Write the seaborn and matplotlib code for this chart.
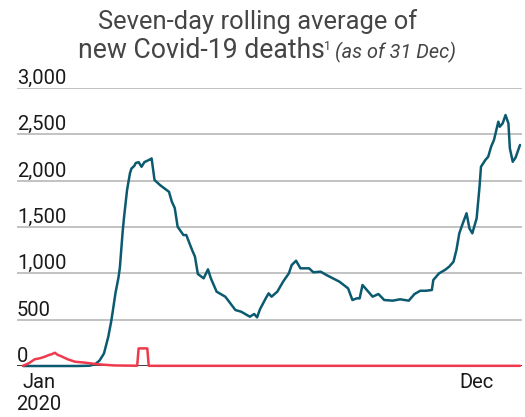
import pandas as pd
import numpy as np
import matplotlib.pyplot as plt
import matplotlib.transforms as mtransforms
import seaborn as sns

sns.set_theme(style='white')
plt.rcParams['font.family'] = ['Roboto', 'DejaVu Sans']

# US seven-day average of new deaths
us_dates = ['2020-01-22', '2020-02-29', '2020-03-08', '2020-03-12', '2020-03-15', '2020-03-18',
            '2020-03-21', '2020-03-23', '2020-03-24', '2020-03-26', '2020-03-28', '2020-03-29',
            '2020-03-30', '2020-03-31', '2020-04-01', '2020-04-02', '2020-04-03', '2020-04-04',
            '2020-04-05', '2020-04-06', '2020-04-08', '2020-04-09', '2020-04-11', '2020-04-13',
            '2020-04-15', '2020-04-17', '2020-04-19', '2020-04-20', '2020-04-22', '2020-04-26',
            '2020-05-02', '2020-05-04', '2020-05-06', '2020-05-08', '2020-05-12', '2020-05-14',
            '2020-05-18', '2020-05-20', '2020-05-22', '2020-05-26', '2020-05-29', '2020-05-31',
            '2020-06-04', '2020-06-10', '2020-06-17', '2020-06-21', '2020-06-27', '2020-06-30',
            '2020-07-02', '2020-07-04', '2020-07-08', '2020-07-10', '2020-07-12', '2020-07-16',
            '2020-07-20', '2020-07-24', '2020-07-26', '2020-07-29', '2020-08-01', '2020-08-07',
            '2020-08-10', '2020-08-15', '2020-08-19', '2020-08-28', '2020-09-03', '2020-09-06',
            '2020-09-09', '2020-09-11', '2020-09-13', '2020-09-16', '2020-09-20', '2020-09-24',
            '2020-09-28', '2020-10-04', '2020-10-09', '2020-10-15', '2020-10-19', '2020-10-23',
            '2020-10-27', '2020-10-31', '2020-11-01', '2020-11-05', '2020-11-09', '2020-11-12',
            '2020-11-15', '2020-11-17', '2020-11-19', '2020-11-21', '2020-11-24', '2020-11-26',
            '2020-11-28', '2020-12-01', '2020-12-03', '2020-12-04', '2020-12-07', '2020-12-09',
            '2020-12-11', '2020-12-13', '2020-12-16', '2020-12-17', '2020-12-19', '2020-12-21',
            '2020-12-23', '2020-12-24', '2020-12-26', '2020-12-28', '2020-12-31']
us_deaths = [0, 0, 3, 20, 60, 135,
             316, 480, 580, 790, 950, 1060,
             1260, 1460, 1620, 1760, 1900, 1990,
             2080, 2130, 2160, 2190, 2200, 2150,
             2200, 2215, 2230, 2240, 2007, 1950,
             1880, 1773, 1705, 1503, 1413, 1413,
             1252, 1180, 993, 946, 1043, 946,
             802, 748, 604, 586, 532, 561,
             525, 612, 730, 784, 748, 802,
             910, 1000, 1090, 1136, 1054, 1054,
             1011, 1018, 982, 910, 838, 712,
             730, 730, 874, 820, 748, 777,
             712, 705, 720, 705, 777, 812,
             812, 820, 928, 1000, 1036, 1072,
             1126, 1252, 1432, 1521, 1648, 1486,
             1432, 1594, 1935, 2150, 2223, 2258,
             2366, 2439, 2636, 2582, 2618, 2708,
             2618, 2348, 2204, 2251, 2385]

# China seven-day average of new deaths
cn_dates = ['2020-01-22', '2020-01-26', '2020-01-30', '2020-02-03', '2020-02-06', '2020-02-09',
            '2020-02-11', '2020-02-13', '2020-02-15', '2020-02-17', '2020-02-22', '2020-02-27',
            '2020-03-05', '2020-03-14', '2020-03-25', '2020-04-10', '2020-04-11', '2020-04-17',
            '2020-04-18', '2020-12-31']
cn_deaths = [2, 30, 72, 85, 100, 119,
             128, 143, 120, 108, 72, 46,
             36, 18, 6, 3, 190, 190,
             2, 2]

y_ticks = [0, 500, 1000, 1500, 2000, 2500, 3000]
y_labels = ['0', '500', '1,000', '1,500', '2,000', '2,500', '3,000']

us = pd.DataFrame({'date': pd.to_datetime(us_dates), 'deaths': us_deaths})
cn = pd.DataFrame({'date': pd.to_datetime(cn_dates), 'deaths': cn_deaths})

fig = plt.figure(figsize=(5.25, 4.17), dpi=100)
ax = fig.add_axes([17 / 525, 1 - 366 / 417, 505 / 525, 278 / 417])

sns.lineplot(data=us, x='date', y='deaths', color='#0b5a70', lw=1.8, ax=ax, clip_on=False, zorder=4)
sns.lineplot(data=cn, x='date', y='deaths', color='#ee3a4c', lw=1.8, ax=ax, clip_on=False, zorder=5)

start = pd.Timestamp('2020-01-22')
end = pd.Timestamp('2020-12-31')
ax.set_xlim(start - pd.Timedelta(days=4.2), end + pd.Timedelta(days=1.4))
ax.set_ylim(0, 3000)

for s in ax.spines.values():
    s.set_visible(False)

ax.set_yticks(y_ticks)
ax.set_yticklabels(y_labels)
ax.yaxis.grid(True, color='#bdbdbd', lw=1.3)
ax.axhline(0, color='#333333', lw=1.3, zorder=3)
ax.tick_params(axis='y', length=0, pad=0, labelsize=14.5, labelcolor='#1a1a1a')
for lbl in ax.get_yticklabels():
    lbl.set_ha('left')
    lbl.set_va('bottom')

ax.set_xticks([start, pd.Timestamp('2020-12-01')])
ax.set_xticklabels(['Jan\n2020', 'Dec'])
ax.tick_params(axis='x', length=0, pad=5, labelsize=14.5, labelcolor='#1a1a1a')
xl = ax.get_xticklabels()
xl[0].set_transform(xl[0].get_transform() + mtransforms.ScaledTranslation(15.5 / 100, 0, fig.dpi_scale_trans))
ax.set_xlabel('')
ax.set_ylabel('')

# title, second line built piece by piece
fig.text(257.5 / 525, 1 - 28.5 / 417, 'Seven-day rolling average of', ha='center', va='baseline',
         fontsize=18.4, color='#454545')
r = fig.canvas.get_renderer()
t1 = fig.text(78 / 525, 1 - 58.5 / 417, 'new Covid-19 deaths', ha='left', va='baseline',
              fontsize=19.2, color='#454545')
bb = t1.get_window_extent(r)
t2 = fig.text(bb.x1 / 525 - 1 / 525, 1 - 49.5 / 417, '1', ha='left', va='baseline',
              fontsize=9, color='#454545')
bb2 = t2.get_window_extent(r)
fig.text(bb2.x1 / 525 + 4 / 525, 1 - 58.5 / 417, '(as of 31 Dec)', ha='left', va='baseline',
         fontsize=14.3, style='italic', color='#454545')

fig.savefig('out.png', dpi=100)
